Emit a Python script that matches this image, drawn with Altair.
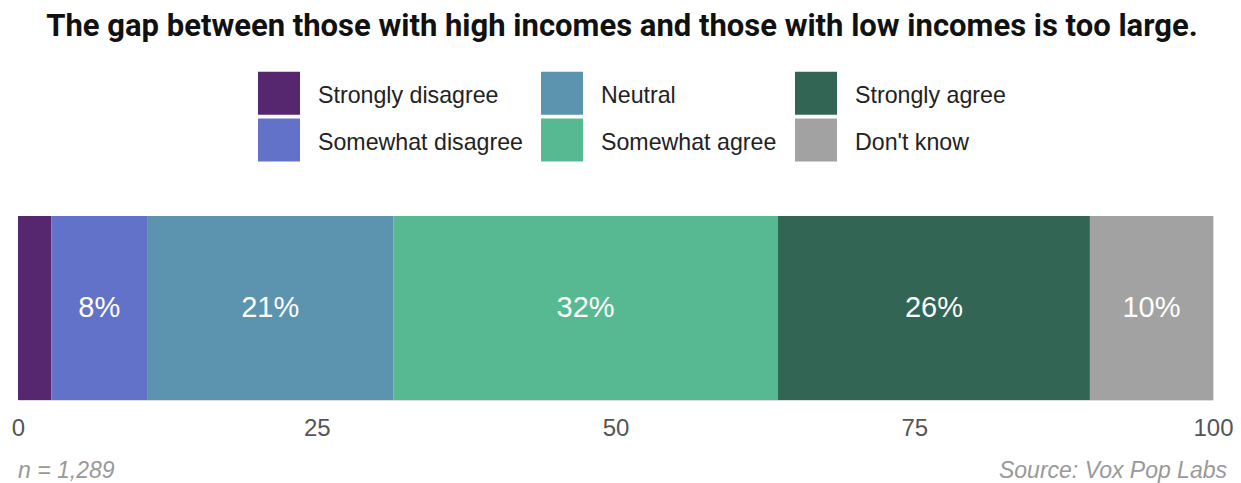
import altair as alt
import pandas as pd

categories = ["Strongly disagree", "Somewhat disagree", "Neutral",
              "Somewhat agree", "Strongly agree", "Don't know"]
values = [2.8, 8.0, 20.6, 32.2, 26.1, 10.3]
labels = ["", "8%", "21%", "32%", "26%", "10%"]
colors = ["#56276f", "#6272c8", "#5c93ae", "#57b992", "#326553", "#a2a2a2"]
tick_values = [0, 25, 50, 75, 100]
title_text = "The gap between those with high incomes and those with low incomes is too large."
note_left = "n = 1,289"
note_right = "Source: Vox Pop Labs"

W, H = 1195, 184

ends = pd.Series(values).cumsum()
starts = ends - pd.Series(values)
df = pd.DataFrame({
    "cat": categories,
    "start": starts,
    "end": ends,
    "mid": (starts + ends) / 2,
    "label": labels,
    "order": list(range(len(categories))),
    "q": ["q"] * len(categories),
})

color_scale = alt.Scale(domain=categories, range=colors)

yenc = alt.Y("q:N", axis=None, scale=alt.Scale(paddingInner=0, paddingOuter=0))

bars = alt.Chart(df).mark_bar().encode(
    x=alt.X("start:Q", scale=alt.Scale(domain=[0, 100], nice=False, zero=True),
            axis=alt.Axis(values=tick_values, grid=False, domain=False, ticks=False,
                          labelFontSize=24, labelColor="#555555", labelPadding=16,
                          labelFont="Liberation Sans", title=None, labelFlush=False)),
    x2="end:Q",
    y=yenc,
    color=alt.Color("cat:N", scale=color_scale, sort=categories, legend=alt.Legend(
        title=None, orient="none", legendX=240, legendY=-141, columns=3,
        symbolType="M-1,-1.167H1V0.881H-1Z", symbolSize=1764, symbolStrokeWidth=0,
        symbolOpacity=1, labelFontSize=23.2, labelFont="Liberation Sans", labelColor="#222222",
        labelOffset=18, rowPadding=3, columnPadding=18, padding=0, labelLimit=400)),
    order="order:Q",
)

text = alt.Chart(df).mark_text(color="white", fontSize=29, font="Liberation Sans").encode(
    x="mid:Q", y=yenc, text="label:N")

title_df = pd.DataFrame({"t": [title_text]})
title = alt.Chart(title_df).mark_text(fontSize=31, font="Roboto", fontWeight="bold",
                                      color="#111111", baseline="alphabetic", align="center").encode(
    x=alt.value(604), y=alt.value(-180), text="t:N")

notes_df = pd.DataFrame({"t": [note_left]})
nl = alt.Chart(notes_df).mark_text(fontSize=23, font="Liberation Sans", fontStyle="italic",
                                   color="#999999", align="left", baseline="alphabetic").encode(
    x=alt.value(0), y=alt.value(262), text="t:N")
notes_df2 = pd.DataFrame({"t": [note_right]})
nr = alt.Chart(notes_df2).mark_text(fontSize=23, font="Liberation Sans", fontStyle="italic",
                                    color="#999999", align="right", baseline="alphabetic").encode(
    x=alt.value(1209), y=alt.value(262), text="t:N")

chart = alt.layer(bars, text, title, nl, nr).properties(
    width=W, height=H,
    autosize=alt.AutoSizeParams(type="none"),
    padding={"left": 10, "top": 208, "right": 1225 - 10 - W, "bottom": 83},
).configure_view(stroke=None).configure(background="white")

chart.save("out.html", embed_options={"renderer": "svg", "actions": False})
